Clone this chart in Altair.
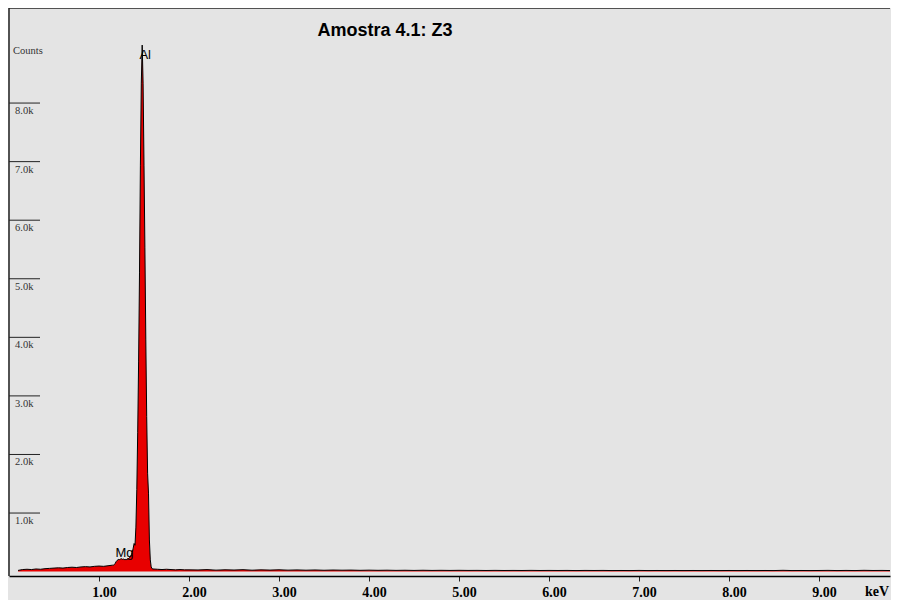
import altair as alt
import pandas as pd

# ---- spectrum data (keV, counts) ----
low_kev = [0.10, 0.15, 0.20, 0.25, 0.30, 0.35, 0.40, 0.45, 0.50, 0.55, 0.60,
           0.65, 0.70, 0.75, 0.80, 0.85, 0.90, 0.95, 1.00, 1.05, 1.10, 1.15]
low_counts = [20, 35, 40, 35, 45, 40, 50, 55, 60, 65, 60,
              70, 75, 70, 80, 85, 80, 90, 95, 90, 100, 110]

mg_kev = [1.16, 1.17, 1.18, 1.19, 1.20, 1.21, 1.22, 1.23, 1.24, 1.25, 1.26, 1.27,
          1.28, 1.29, 1.30, 1.31, 1.32, 1.33, 1.34, 1.35, 1.36, 1.37, 1.38, 1.39]
mg_counts = [110, 120, 140, 170, 190, 200, 210, 205, 215, 220, 210, 215,
             205, 210, 200, 210, 215, 225, 240, 260, 290, 330, 400, 480]

al_kev = [1.40, 1.41, 1.42, 1.43, 1.44, 1.45, 1.46, 1.47, 1.48, 1.49,
          1.50, 1.51, 1.52, 1.53, 1.54, 1.55, 1.56, 1.57, 1.58, 1.59]
al_counts = [450, 760, 1400, 2370, 3580, 5100, 6940, 8340, 8990, 8340,
             6940, 5540, 3970, 2650, 1680, 1340, 540, 200, 80, 50]

bg_kev = [1.60, 1.65, 1.70, 1.75, 1.80, 1.85, 1.90, 1.95, 2.00,
          2.1, 2.2, 2.3, 2.4, 2.5, 2.6, 2.7, 2.8, 2.9, 3.0,
          3.1, 3.2, 3.3, 3.4, 3.5, 3.6, 3.7, 3.8, 3.9, 4.0,
          4.1, 4.2, 4.3, 4.4, 4.5, 4.6, 4.7, 4.8, 4.9, 5.0,
          5.1, 5.2, 5.3, 5.4, 5.5, 5.6, 5.7, 5.8, 5.9, 6.0,
          6.1, 6.2, 6.3, 6.4, 6.5, 6.6, 6.7, 6.8, 6.9, 7.0,
          7.1, 7.2, 7.3, 7.4, 7.5, 7.6, 7.7, 7.8, 7.9, 8.0,
          8.1, 8.2, 8.3, 8.4, 8.5, 8.6, 8.7, 8.8, 8.9, 9.0,
          9.1, 9.2, 9.3, 9.4, 9.5, 9.6, 9.7, 9.8]
bg_counts = [45, 40, 35, 40, 35, 30, 35, 30, 30,
             28, 34, 25, 31, 27, 33, 24, 30, 26, 31,
             25, 29, 24, 28, 23, 27, 24, 26, 22, 25,
             22, 24, 21, 23, 20, 23, 20, 22, 20, 22,
             20, 21, 19, 21, 19, 20, 19, 21, 19, 20,
             19, 20, 18, 20, 19, 20, 18, 19, 18, 20,
             18, 19, 18, 19, 18, 19, 18, 19, 18, 19,
             18, 19, 18, 19, 18, 22, 18, 19, 18, 19,
             21, 18, 20, 18, 22, 19, 20, 18]

ytick_values = [1000, 2000, 3000, 4000, 5000, 6000, 7000, 8000]
ytick_labels = ["1.0k", "2.0k", "3.0k", "4.0k", "5.0k", "6.0k", "7.0k", "8.0k"]
xtick_values = [1, 2, 3, 4, 5, 6, 7, 8, 9]

spec = pd.DataFrame({
    "kev": low_kev + mg_kev + al_kev + bg_kev,
    "counts": low_counts + mg_counts + al_counts + bg_counts,
})
yticks = pd.DataFrame({"v": ytick_values, "lab": ytick_labels})

W, H = 881, 568
xscale = alt.Scale(domain=[0, 881 / 90.0], nice=False, zero=False)
yscale = alt.Scale(domain=[-75, 9623], nice=False, zero=False)

SERIF = "Liberation Serif"
SANS = "Liberation Sans"

xaxis = alt.Axis(values=xtick_values, format=".2f", title=None, grid=False,
                 domainColor="black", domainWidth=1.5, tickColor="#222",
                 tickSize=5, tickWidth=1, labelFont=SERIF, labelFontWeight="bold",
                 labelFontSize=14, labelColor="black", labelOffset=5,
                 labelPadding=4, labelFlush=False)

area = alt.Chart(spec).mark_area(
    color="#e80000", opacity=1, clip=True,
    line={"color": "black", "strokeWidth": 1}, interpolate="linear"
).encode(
    x=alt.X("kev:Q", scale=xscale, axis=xaxis),
    y=alt.Y("counts:Q", scale=yscale, axis=None),
)

tick_rules = alt.Chart(yticks).mark_rule(color="#222", strokeWidth=1).encode(
    x=alt.value(0), x2=alt.value(31),
    y=alt.Y("v:Q", scale=yscale, axis=None),
)
tick_text = alt.Chart(yticks).mark_text(
    font=SERIF, fontSize=10.5, color="#333", align="left", baseline="top", dy=3
).encode(
    x=alt.value(6), y=alt.Y("v:Q", scale=yscale, axis=None), text="lab:N"
)

frame_top = alt.Chart(pd.DataFrame({"a": [0]})).mark_rule(
    color="#222", strokeWidth=1.5
).encode(x=alt.value(0), x2=alt.value(W), y=alt.value(0))
frame_left = alt.Chart(pd.DataFrame({"a": [0]})).mark_rule(
    color="#222", strokeWidth=1.5
).encode(x=alt.value(0), y=alt.value(0), y2=alt.value(H))

counts_lbl = alt.Chart(pd.DataFrame({"t": ["Counts"]})).mark_text(
    font=SERIF, fontSize=10.5, color="#333", align="left", baseline="top"
).encode(x=alt.value(4), y=alt.value(38), text="t:N")

title_lbl = alt.Chart(pd.DataFrame({"t": ["Amostra 4.1: Z3"]})).mark_text(
    font=SANS, fontSize=18, fontWeight="bold", color="black",
    align="center", baseline="alphabetic"
).encode(x=alt.value(376), y=alt.value(28), text="t:N")

kev_lbl = alt.Chart(pd.DataFrame({"t": ["keV"]})).mark_text(
    font=SERIF, fontSize=14, fontWeight="bold", color="black",
    align="left", baseline="top"
).encode(x=alt.value(856), y=alt.value(577), text="t:N")

peaks = pd.DataFrame({"kev": [1.48], "counts": [8990], "t": ["Al"]})
al_lbl = alt.Chart(peaks).mark_text(
    font=SANS, fontSize=13, color="black", align="center",
    baseline="alphabetic", dx=3, dy=14
).encode(x=alt.X("kev:Q", scale=xscale), y=alt.Y("counts:Q", scale=yscale), text="t:N")

mgpk = pd.DataFrame({"kev": [1.25], "counts": [220], "t": ["Mg"]})
mg_lbl = alt.Chart(mgpk).mark_text(
    font=SANS, fontSize=13, color="black", align="center",
    baseline="alphabetic", dx=3, dy=-2
).encode(x=alt.X("kev:Q", scale=xscale), y=alt.Y("counts:Q", scale=yscale), text="t:N")

chart = alt.layer(
    area, tick_rules, tick_text, frame_top, frame_left,
    counts_lbl, title_lbl, kev_lbl, al_lbl, mg_lbl
).properties(
    width=W, height=H,
    autosize=alt.AutoSizeParams(type="none"),
    padding={"left": 1, "top": 0, "right": 1, "bottom": 24},
    background="#e4e4e4",
).configure_view(stroke=None, fill="#e4e4e4")

chart.save("out.html", embed_options={"renderer": "svg", "actions": False})
